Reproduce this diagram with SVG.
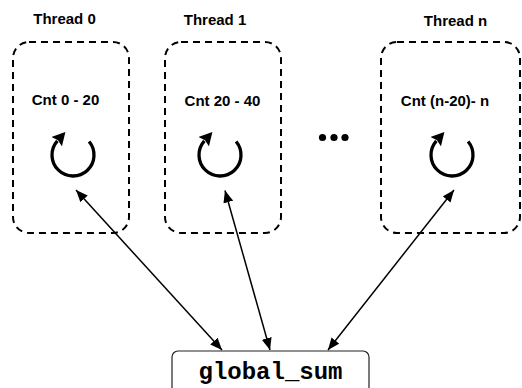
<svg xmlns="http://www.w3.org/2000/svg" width="522" height="388" viewBox="0 0 522 388">
  <style>
    .thread { fill: none; stroke: #000; stroke-width: 2; stroke-dasharray: 7 5; }
    .title { font-family: "Liberation Sans", Arial, sans-serif; font-weight: bold; font-size: 15px; fill: #000; text-anchor: middle; }
    .loop { fill: none; stroke: #000; stroke-width: 3.3; marker-end: url(#loopHead); }
    .link { fill: none; stroke: #000; stroke-width: 1.5; marker-start: url(#tip); marker-end: url(#tip); }
    .var { fill: #fff; stroke: #222; stroke-width: 1.2; }
    .code { font-family: "Liberation Mono", "Courier New", monospace; font-weight: bold; font-size: 24px; fill: #000; text-anchor: middle; }
  </style>
  <defs>
    <marker id="tip" viewBox="0 0 12 10" refX="12" refY="5" markerWidth="12" markerHeight="10" markerUnits="userSpaceOnUse" orient="auto-start-reverse">
      <path d="M0,0 L12,5 L0,10 Z" fill="#000"/>
    </marker>
    <marker id="loopHead" viewBox="0 0 13 14" refX="1" refY="7" markerWidth="13" markerHeight="14" markerUnits="userSpaceOnUse" orient="auto">
      <path d="M0,0 L13,7 L0,14 L2,7 Z" fill="#000"/>
    </marker>
    <path id="loopArc" d="M16.09,-13.5 A21,21 0 1 1 -15.61,-14.05"/>
  </defs>

  <g id="thread-0">
    <text class="title" x="64.5" y="24">Thread 0</text>
    <rect class="thread" x="13" y="42" width="116" height="191" rx="16"/>
    <text class="title" x="65.5" y="105">Cnt 0 - 20</text>
    <use href="#loopArc" class="loop" transform="translate(73,155)"/>
  </g>

  <g id="thread-1">
    <text class="title" x="215" y="25">Thread 1</text>
    <rect class="thread" x="165" y="42" width="116" height="191" rx="16"/>
    <text class="title" x="222.5" y="106">Cnt 20 - 40</text>
    <use href="#loopArc" class="loop" transform="translate(220,155)"/>
  </g>

  <g id="ellipsis">
    <circle cx="322.5" cy="137.5" r="3.6"/>
    <circle cx="334" cy="137.5" r="3.6"/>
    <circle cx="345" cy="137.5" r="3.6"/>
  </g>

  <g id="thread-n">
    <text class="title" x="455.5" y="26">Thread n</text>
    <rect class="thread" x="381" y="42" width="139" height="191" rx="16"/>
    <text class="title" x="445" y="106">Cnt (n-20)- n</text>
    <use href="#loopArc" class="loop" transform="translate(452,155)"/>
  </g>

  <g id="global-sum">
    <rect class="var" x="172" y="351" width="197" height="50" rx="6"/>
    <text class="code" x="270.5" y="379">global_sum</text>
  </g>

  <g id="connectors">
    <line class="link" x1="76" y1="190" x2="222" y2="350"/>
    <line class="link" x1="225" y1="190.5" x2="270" y2="350"/>
    <line class="link" x1="454" y1="190" x2="328" y2="350"/>
  </g>
</svg>
